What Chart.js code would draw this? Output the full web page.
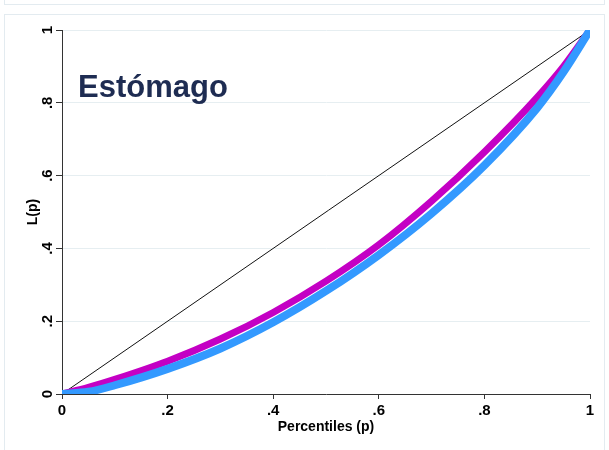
<!DOCTYPE html>
<html>
<head>
<meta charset="utf-8">
<script src="https://cdn.jsdelivr.net/npm/chart.js@4"></script>
<style>
  html, body { margin: 0; padding: 0; background: #fff; }
  #wrap { position: relative; width: 609px; height: 450px; overflow: hidden; }
  .frame { position: absolute; border: 1px solid #e3ebf0; background: #fff; }
  canvas { position: absolute; left: 0; top: 0; }
</style>
</head>
<body>
<div id="wrap">
  <div class="frame" style="left:4px; top:-20px; width:599px; height:23px;"></div>
  <div class="frame" style="left:4px; top:14px; width:599px; height:460px;"></div>
  <canvas id="chart" width="609" height="450"></canvas>
</div>
<script>
  // Lorenz curves
  const percentiles = [0, 0.05, 0.1, 0.2, 0.3, 0.4, 0.5, 0.6, 0.7, 0.8, 0.9, 0.95, 1];
  const lorenzMagenta = [0, 0.018, 0.04, 0.09, 0.151, 0.224, 0.31, 0.41, 0.53, 0.665, 0.815, 0.9, 1];
  const lorenzBlue = [0, 0.006, 0.024, 0.069, 0.125, 0.197, 0.283, 0.382, 0.496, 0.628, 0.786, 0.885, 1];
  const equalityP = [0.01, 1];
  const equalityL = [0.01, 1];
  const tickValues = [0, 0.2, 0.4, 0.6, 0.8, 1];
  const panelLabel = "Estómago";

  const FONT = '"Liberation Sans", Arial, sans-serif';

  function fmtTick(v) {
    const r = Math.round(v * 10) / 10;
    if (r === 0) return "0";
    if (r === 1) return "1";
    return String(r).replace(/^0/, "");
  }

  function toPoints(xs, ys) {
    return xs.map((x, i) => ({ x: x, y: ys[i] }));
  }

  // y tick labels are drawn rotated, like the original
  const rotatedYLabels = {
    id: "rotatedYLabels",
    afterDraw(chart) {
      const ctx = chart.ctx;
      const ys = chart.scales.y;
      ctx.save();
      ctx.font = "bold 15px " + FONT;
      ctx.fillStyle = "#000";
      ctx.textAlign = "center";
      ctx.textBaseline = "middle";
      tickValues.forEach((v) => {
        const py = ys.getPixelForValue(v);
        ctx.save();
        ctx.translate(48, py);
        ctx.rotate(-Math.PI / 2);
        ctx.fillText(fmtTick(v), 0, 0);
        ctx.restore();
      });
      ctx.font = "bold 31px " + FONT;
      ctx.fillStyle = "#1e2c52";
      ctx.textAlign = "left";
      ctx.textBaseline = "alphabetic";
      ctx.fillText(panelLabel, chart.chartArea.left + 16, 97);
      ctx.restore();
    },
  };

  new Chart(document.getElementById("chart"), {
    type: "line",
    data: {
      datasets: [
        {
          label: "blue",
          data: toPoints(percentiles, lorenzBlue),
          borderColor: "#3399ff",
          borderWidth: 8,
          pointRadius: 0,
          cubicInterpolationMode: "monotone",
          borderJoinStyle: "round",
        },
        {
          label: "magenta",
          data: toPoints(percentiles, lorenzMagenta),
          borderColor: "#c400c4",
          borderWidth: 7,
          pointRadius: 0,
          cubicInterpolationMode: "monotone",
          borderJoinStyle: "round",
        },
        {
          label: "equality",
          data: toPoints(equalityP, equalityL),
          borderColor: "#111",
          borderWidth: 1,
          pointRadius: 0,
        },
      ],
    },
    options: {
      responsive: false,
      animation: false,
      devicePixelRatio: 1,
      layout: { padding: { left: 0, right: 19, top: 30, bottom: 0 } },
      plugins: { legend: { display: false }, tooltip: { enabled: false } },
      scales: {
        x: {
          type: "linear",
          min: 0,
          max: 1,
          afterBuildTicks: (s) => { s.ticks = tickValues.map((v) => ({ value: v })); },
          afterFit: (s) => { s.height = 56; },
          grid: { drawOnChartArea: false, tickLength: 5, tickColor: "#333" },
          border: { color: "#333", width: 1 },
          ticks: {
            color: "#000",
            font: { family: FONT, size: 15, weight: "bold" },
            padding: 3,
            maxRotation: 0,
            autoSkip: false,
            callback: (v) => fmtTick(v),
          },
          title: {
            display: true,
            text: "Percentiles (p)",
            color: "#000",
            font: { family: FONT, size: 14, weight: "bold" },
            padding: { top: 0, bottom: 14 },
          },
        },
        y: {
          type: "linear",
          min: 0,
          max: 1,
          afterBuildTicks: (s) => { s.ticks = tickValues.map((v) => ({ value: v })); },
          afterFit: (s) => { s.width = 62; },
          grid: { color: "#e6eef1", lineWidth: 1, tickLength: 6, tickColor: "#333" },
          border: { color: "#333", width: 1 },
          ticks: {
            color: "rgba(0,0,0,0)",
            font: { family: FONT, size: 15, weight: "bold" },
            callback: (v) => fmtTick(v),
          },
          title: {
            display: true,
            text: "L(p)",
            color: "#000",
            font: { family: FONT, size: 14, weight: "bold" },
            padding: { top: 25, bottom: 0 },
          },
        },
      },
    },
    plugins: [rotatedYLabels],
  });
</script>
</body>
</html>
